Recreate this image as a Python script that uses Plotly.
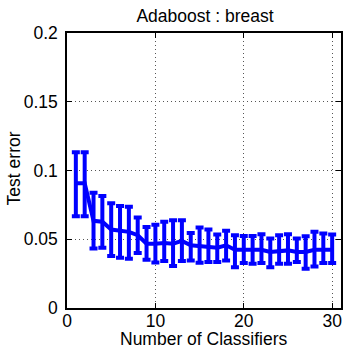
import plotly.graph_objects as go

classifiers = list(range(1, 31))
mean_err = [0.0908, 0.0908, 0.0634, 0.0627, 0.0571, 0.0561, 0.0554, 0.0529, 0.0468, 0.0468,
            0.0473, 0.0468, 0.0488, 0.0456, 0.0449, 0.0449, 0.0439, 0.0456, 0.0424, 0.0424,
            0.0424, 0.0424, 0.0407, 0.0414, 0.0419, 0.0407, 0.0407, 0.0424, 0.0422, 0.0424]
upper = [0.1132, 0.1132, 0.0839, 0.0815, 0.0761, 0.0742, 0.0737, 0.0659, 0.0590, 0.0605,
         0.0627, 0.0639, 0.0639, 0.0546, 0.0586, 0.0571, 0.0534, 0.0561, 0.0529, 0.0524,
         0.0524, 0.0537, 0.0505, 0.0529, 0.0537, 0.0505, 0.0522, 0.0554, 0.0542, 0.0534]
lower = [0.0668, 0.0668, 0.0432, 0.0439, 0.0378, 0.0366, 0.0359, 0.0400, 0.0351, 0.0331,
         0.0341, 0.0305, 0.0341, 0.0346, 0.0329, 0.0334, 0.0334, 0.0346, 0.0297, 0.0327,
         0.0322, 0.0327, 0.0297, 0.0322, 0.0322, 0.0334, 0.0285, 0.0302, 0.0327, 0.0327]
x_ticks = [0, 10, 20, 30]
y_ticks = [0, 0.05, 0.1, 0.15, 0.2]
y_tick_labels = ["0", "0.05", "0.1", "0.15", "0.2"]

err_plus = [u - m for u, m in zip(upper, mean_err)]
err_minus = [m - l for m, l in zip(mean_err, lower)]

fig = go.Figure()
fig.add_trace(go.Scatter(
    x=classifiers, y=mean_err, mode="lines",
    line=dict(color="#0000ff", width=4),
    error_y=dict(type="data", array=err_plus, arrayminus=err_minus,
                 color="#0000ff", thickness=4, width=4, symmetric=False),
    showlegend=False, hoverinfo="skip",
))

FS = 17.5
font = dict(family="Liberation Sans, Arial, sans-serif", size=FS, color="black")
fig.update_layout(
    width=345, height=348,
    margin=dict(l=67, r=2, t=33, b=40),
    paper_bgcolor="white", plot_bgcolor="white",
    font=font,
    title=dict(text="Adaboost : breast", x=(67 + 343) / 2 / 345, xanchor="center",
               y=1 - 16 / 348, yanchor="middle", font=dict(size=FS)),
    xaxis=dict(range=[0, 31], tickvals=x_ticks, ticks="inside", ticklen=5,
               tickcolor="black", showline=True, linecolor="black", linewidth=1.5,
               mirror="ticks", showgrid=True, gridcolor="#555555", griddash="1px,3px",
               gridwidth=1, zeroline=False, ticklabelstandoff=-4,
               tickfont=dict(size=FS)),
    yaxis=dict(range=[0, 0.2], tickvals=y_ticks, ticktext=y_tick_labels, ticks="inside",
               ticklen=5, tickcolor="black", showline=True, linecolor="black",
               linewidth=1.5, mirror="ticks", showgrid=True, gridcolor="#555555",
               griddash="1px,3px", gridwidth=1, zeroline=False, ticklabelstandoff=4,
               tickfont=dict(size=FS)),
    annotations=[
        dict(text="Number of Classifiers", xref="paper", yref="paper",
             x=0.5, y=-(339 - 308) / 275, xanchor="center", yanchor="middle",
             showarrow=False, font=dict(size=FS)),
        dict(text="Test error", xref="paper", yref="paper", textangle=-90,
             x=-(67 - 14) / 276, y=(308 - 168) / 275, xanchor="center", yanchor="middle",
             showarrow=False, font=dict(size=FS)),
    ],
)
fig.write_html("out.html", config={"displayModeBar": False},
               post_script="document.body.style.margin='0';document.body.style.overflow='hidden';")
